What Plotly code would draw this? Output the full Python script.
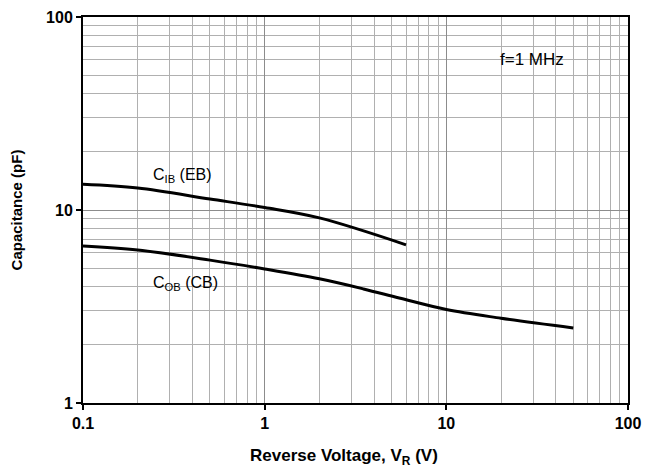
import plotly.graph_objects as go

cib_v = [0.1, 0.2, 0.5, 1, 2, 6]
cib_c = [13.6, 13.0, 11.4, 10.3, 9.1, 6.6]
cob_v = [0.1, 0.2, 0.5, 1, 2, 3.5, 5.5, 10, 20, 50]
cob_c = [6.5, 6.2, 5.5, 4.95, 4.4, 3.9, 3.5, 3.05, 2.75, 2.45]
x_ticks = [0.1, 1, 10, 100]
x_tick_text = ["0.1", "1", "10", "100"]
y_ticks = [1, 10, 100]
y_tick_text = ["1", "10", "100"]

font = "Liberation Sans, Arial, sans-serif"
fig = go.Figure()
fig.add_trace(go.Scatter(x=cib_v, y=cib_c, mode="lines", line=dict(color="black", width=3, shape="spline"), showlegend=False))
fig.add_trace(go.Scatter(x=cob_v, y=cob_c, mode="lines", line=dict(color="black", width=3, shape="spline"), showlegend=False))

fig.add_annotation(x=-0.625, y=1.18, xref="x", yref="y", text="C<sub>IB</sub> (EB)", showarrow=False,
                   xanchor="left", font=dict(family=font, size=16, color="black"))
fig.add_annotation(x=-0.625, y=0.617, xref="x", yref="y", text="C<sub>OB</sub> (CB)", showarrow=False,
                   xanchor="left", font=dict(family=font, size=16, color="black"))
fig.add_annotation(x=1.473, y=1.782, xref="x", yref="y", text="f=1 MHz", showarrow=False,
                   font=dict(family=font, size=17, color="black"))
fig.add_annotation(x=0.479, y=-0.14, xref="paper", yref="paper", yanchor="middle",
                   text="<b>Reverse Voltage, V<sub>R</sub> (V)</b>", showarrow=False,
                   font=dict(family=font, size=17, color="black"))

axis_common = dict(
    type="log", showline=True, linecolor="black", linewidth=2, mirror=True,
    ticks="outside", ticklen=5, tickwidth=2, tickcolor="black",
    showgrid=True, gridcolor="#8c8c8c", gridwidth=1,
    minor=dict(dtick="D1", showgrid=True, gridcolor="#b0b0b0", gridwidth=1, ticks=""),
    tickfont=dict(family=font, size=16, color="black"),
    zeroline=False,
)
fig.update_xaxes(range=[-1, 2], tickvals=x_ticks, ticktext=["<b>%s</b>" % t for t in x_tick_text],
                 **axis_common)
fig.update_yaxes(range=[0, 2], tickvals=y_ticks, ticktext=["<b>%s</b>" % t for t in y_tick_text],
                 title=dict(text="<b>Capacitance (pF)</b>", font=dict(family=font, size=15, color="black"), standoff=20),
                 **axis_common)
fig.update_layout(width=649, height=469, margin=dict(l=83, r=21, t=17, b=66, autoexpand=False),
                  plot_bgcolor="white", paper_bgcolor="white")
fig.write_html("out.html", config={"displayModeBar": False},
               post_script="document.body.style.margin='0';document.body.style.overflow='hidden';")
